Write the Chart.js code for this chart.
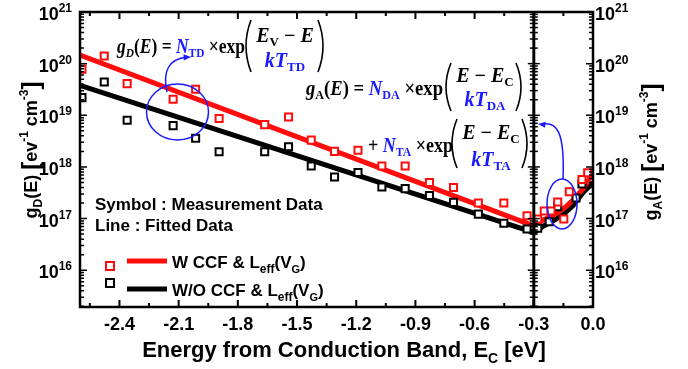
<!DOCTYPE html>
<html>
<head>
<meta charset="utf-8">
<script src="https://cdn.jsdelivr.net/npm/chart.js@4/dist/chart.umd.min.js"></script>
<style>
html, body { margin: 0; padding: 0; background: #fff; }
#wrap { width: 688px; height: 369px; position: relative; }
</style>
</head>
<body>
<div id="wrap"><canvas id="chart"></canvas></div>
<script>
// measured data, W CCF & Leff(VG)
const energyW = [-2.59, -2.477, -2.361, -2.128, -2.014, -1.895, -1.664, -1.543, -1.428, -1.31, -1.191, -1.07, -0.952,
                 -0.829, -0.707, -0.581, -0.452, -0.334, -0.28, -0.247, -0.213, -0.179, -0.148, -0.12, -0.056, -0.027];
const gW = [7.8e19, 1.41e20, 4.1e19, 2.04e19, 3.2e19, 8.7e18, 6.6e18, 9.3e18, 3.3e18, 2.0e18, 2.1e18, 1.04e18, 1.04e18,
            5.0e17, 4.0e17, 2.0e17, 2.0e17, 1.13e17, 9.8e16, 1.4e17, 1.4e17, 2.1e17, 9.8e16, 3.3e17, 5.7e17, 7.7e17];

// measured data, W/O CCF & Leff(VG)
const energyWO = [-2.59, -2.477, -2.361, -2.128, -2.014, -1.895, -1.664, -1.543, -1.428, -1.31, -1.191, -1.07, -0.952,
                  -0.829, -0.707, -0.581, -0.452, -0.334, -0.28, -0.222, -0.179, -0.086, -0.056];
const gWO = [2.2e19, 4.4e19, 8.0e18, 6.3e18, 3.6e18, 1.96e18, 1.96e18, 2.45e18, 1.04e18, 6.4e17, 7.8e17, 4.1e17, 3.8e17,
             2.8e17, 2.06e17, 1.22e17, 8.1e16, 6.3e16, 6.5e16, 8.7e16, 1.7e17, 2.5e17, 4.7e17];

// fitted curves
const fitEnergy = [-2.6, -0.3, -0.25, -0.2, -0.15, -0.1, -0.05, 0.0];
const fitW = [1.46e20, 7.2e16, 9.5e16, 1.17e17, 1.55e17, 2.3e17, 3.8e17, 7.6e17];
const fitWO = [3.8e19, 5.4e16, 7.2e16, 9.1e16, 1.2e17, 1.8e17, 3.2e17, 5.0e17];

// axes
const xTicks = [-2.4, -2.1, -1.8, -1.5, -1.2, -0.9, -0.6, -0.3, 0.0];
const xTickLabels = ['-2.4', '-2.1', '-1.8', '-1.5', '-1.2', '-0.9', '-0.6', '-0.3', '0.0'];
const yTickExps = [16, 17, 18, 19, 20, 21];
const xMin = -2.6, xMax = 0.0;
const yMin = 1.94e15, yMax = 1e21;
const dividerE = -0.3;

const RED = '#ff0d0d';
const BLUE = '#1a1aff';
const SANS = 'Arial, "Liberation Sans", sans-serif';
const SERIF = '"Times New Roman", "Liberation Serif", serif';

function pts(xs, ys) { return xs.map((x, i) => ({ x: x, y: ys[i] })); }

// draw a run of text pieces: [text, font, color, dy]
function seq(ctx, x, y, parts) {
    parts.forEach(p => {
        ctx.font = p[1];
        ctx.fillStyle = p[2] || '#000';
        ctx.fillText(p[0], x, y + (p[3] || 0));
        x += ctx.measureText(p[0]).width;
    });
    return x;
}
function seqWidth(ctx, parts) {
    let w = 0;
    parts.forEach(p => { ctx.font = p[1]; w += ctx.measureText(p[0]).width; });
    return w;
}
function seqCenter(ctx, cx, y, parts) {
    seq(ctx, cx - seqWidth(ctx, parts) / 2, y, parts);
}
// squeeze a run into a given width
function seqFit(ctx, x, y, parts, w) {
    const sx = Math.min(1, w / seqWidth(ctx, parts));
    ctx.save();
    ctx.translate(x, y);
    ctx.scale(sx, 1);
    seq(ctx, 0, 0, parts);
    ctx.restore();
}
function paren(ctx, x, y1, y2, dir) {
    // dir -1 = left "(", +1 = right ")"
    const m = (y1 + y2) / 2;
    ctx.beginPath();
    ctx.moveTo(x, y1);
    ctx.quadraticCurveTo(x + dir * 10, m, x, y2);
    ctx.lineWidth = 1.6;
    ctx.strokeStyle = '#000';
    ctx.stroke();
}
function logTicks(cb) {
    for (let e = 15; e <= 20; e++) {
        for (let k = 1; k <= 9; k++) {
            const v = k * Math.pow(10, e);
            if (v >= yMin && v <= yMax) cb(v, k === 1);
        }
    }
    cb(1e21, true);
}
function arrowHead(ctx, x, y, ang) {
    ctx.beginPath();
    ctx.moveTo(x, y);
    ctx.lineTo(x - 8 * Math.cos(ang - 0.4), y - 8 * Math.sin(ang - 0.4));
    ctx.lineTo(x - 8 * Math.cos(ang + 0.4), y - 8 * Math.sin(ang + 0.4));
    ctx.closePath();
    ctx.fill();
}

const decor = {
    id: 'decor',
    afterDraw(chart) {
        const ctx = chart.ctx;
        const { left, right, top, bottom } = chart.chartArea;
        const xs = chart.scales.x, ys = chart.scales.y;
        ctx.save();

        // frame
        ctx.strokeStyle = '#000';
        ctx.lineWidth = 2.5;
        ctx.strokeRect(left, top, right - left, bottom - top);

        // x ticks, inward on bottom and top
        ctx.lineWidth = 2;
        xTicks.forEach(v => {
            [[v, 7], [v - 0.15, 4]].forEach(t => {
                if (t[0] < xMin) return;
                const px = xs.getPixelForValue(t[0]);
                ctx.beginPath();
                ctx.moveTo(px, bottom); ctx.lineTo(px, bottom - t[1]);
                ctx.moveTo(px, top); ctx.lineTo(px, top + t[1]);
                ctx.stroke();
            });
        });
        // y ticks, inward on left and right
        ctx.lineWidth = 1.5;
        logTicks((v, major) => {
            const py = ys.getPixelForValue(v);
            const len = major ? 7 : 4;
            ctx.beginPath();
            ctx.moveTo(left, py); ctx.lineTo(left + len, py);
            ctx.moveTo(right, py); ctx.lineTo(right - len, py);
            ctx.stroke();
        });

        // divider at -0.3 with ticks both sides
        const dx = xs.getPixelForValue(dividerE);
        ctx.lineWidth = 3;
        ctx.beginPath(); ctx.moveTo(dx, top); ctx.lineTo(dx, bottom); ctx.stroke();
        ctx.lineWidth = 1.5;
        logTicks((v, major) => {
            const py = ys.getPixelForValue(v);
            const len = major ? 6 : 4;
            ctx.beginPath(); ctx.moveTo(dx - len, py); ctx.lineTo(dx + len, py); ctx.stroke();
        });

        // x tick labels
        ctx.fillStyle = '#000';
        ctx.font = 'bold 18px ' + SANS;
        ctx.textAlign = 'center';
        xTicks.forEach((v, i) => ctx.fillText(xTickLabels[i], xs.getPixelForValue(v), 330));
        ctx.textAlign = 'left';

        // y tick labels, left and right
        yTickExps.forEach(e => {
            const py = ys.getPixelForValue(Math.pow(10, e));
            const parts = [['10', 'bold 18px ' + SANS], [String(e), 'bold 12px ' + SANS, '#000', -8]];
            const w = seqWidth(ctx, parts);
            seq(ctx, left - 8 - w, py + 8, parts);
            seq(ctx, right + 2, py + 8, parts);
        });

        // x title
        const xt = [['Energy from Conduction Band, E', 'bold 22px ' + SANS], ['C', 'bold 14px ' + SANS, '#000', 6],
                    [' [eV]', 'bold 22px ' + SANS]];
        seqCenter(ctx, 344, 357, xt);

        // y titles (rotated)
        function yTitle(cx, cy, sub) {
            const parts = [['g', 'bold 18px ' + SANS], [sub, 'bold 12px ' + SANS, '#000', 5],
                           ['(E) ', 'bold 18px ' + SANS], ['[', 'bold 24px ' + SANS, '#000', 2],
                           ['ev', 'bold 18px ' + SANS], ['-1', 'bold 12px ' + SANS, '#000', -9],
                           [' cm', 'bold 18px ' + SANS], ['-3', 'bold 12px ' + SANS, '#000', -9],
                           [']', 'bold 24px ' + SANS, '#000', 2]];
            ctx.save();
            ctx.translate(cx, cy);
            ctx.rotate(-Math.PI / 2);
            seqCenter(ctx, 0, 0, parts);
            ctx.restore();
        }
        yTitle(37, 150, 'D');
        yTitle(657, 152, 'A');

        // notes
        ctx.font = 'bold 17px ' + SANS;
        ctx.fillStyle = '#000';
        ctx.fillText('Symbol : Measurement Data', 95, 210);
        ctx.fillText('Line : Fitted Data', 95, 231);

        // legend
        const leg = [[RED, 'W CCF & L', 266, 261, 268], ['#000', 'W/O CCF & L', 283, 289, 296]];
        leg.forEach(l => {
            ctx.strokeStyle = l[0];
            ctx.lineWidth = 2;
            ctx.fillStyle = '#fff';
            ctx.fillRect(106, l[2] - 4, 8, 8);
            ctx.strokeRect(106, l[2] - 4, 8, 8);
            ctx.lineWidth = 5;
            ctx.beginPath(); ctx.moveTo(127, l[3]); ctx.lineTo(167, l[3]); ctx.stroke();
            seq(ctx, 172, l[4], [[l[1], 'bold 17px ' + SANS], ['eff', 'bold 12px ' + SANS, '#000', 5],
                                 ['(V', 'bold 17px ' + SANS], ['G', 'bold 11px ' + SANS, '#000', 5],
                                 [')', 'bold 17px ' + SANS]]);
        });

        // equations
        const bi = 'bold italic 20px ' + SERIF, b = 'bold 20px ' + SERIF;
        const bs = 'bold 13px ' + SERIF, bis = 'bold italic 13px ' + SERIF;
        // g_D(E)
        seqFit(ctx, 117, 53, [['g', bi], ['D', bis, '#000', 4], ['(', b], ['E', bi], [') = ', b],
                              ['N', bi, BLUE], ['TD', bs, BLUE, 4], [' \u00d7exp', b]], 128);
        paren(ctx, 251, 20, 72, -1);
        paren(ctx, 318, 20, 72, 1);
        seqCenter(ctx, 285, 42, [['E', bi], ['V', bs, '#000', 4], [' \u2212 ', b], ['E', bi]]);
        seqCenter(ctx, 285, 67, [['kT', bi, BLUE], ['TD', bs, BLUE, 4]]);
        // g_A(E)
        seqFit(ctx, 306, 95, [['g', bi], ['A', bs, '#000', 4], ['(', b], ['E', bi], [') = ', b],
                              ['N', bi, BLUE], ['DA', bs, BLUE, 4], [' \u00d7exp', b]], 137);
        paren(ctx, 451, 63, 111, -1);
        paren(ctx, 516, 63, 111, 1);
        seqCenter(ctx, 485, 82, [['E', bi], [' \u2212 ', b], ['E', bi], ['C', bs, '#000', 4]]);
        seqCenter(ctx, 485, 106, [['kT', bi, BLUE], ['DA', bs, BLUE, 4]]);
        // + N_TA term
        seqFit(ctx, 368, 152, [['+ ', b], ['N', bi, BLUE], ['TA', bs, BLUE, 4], [' \u00d7exp', b]], 85);
        paren(ctx, 457, 119, 168, -1);
        paren(ctx, 522, 119, 168, 1);
        seqCenter(ctx, 491, 139, [['E', bi], [' \u2212 ', b], ['E', bi], ['C', bs, '#000', 4]]);
        seqCenter(ctx, 491, 166, [['kT', bi, BLUE], ['TA', bs, BLUE, 4]]);

        // blue annotations
        ctx.strokeStyle = BLUE;
        ctx.fillStyle = BLUE;
        ctx.lineWidth = 1.5;
        ctx.beginPath(); ctx.ellipse(177.5, 112, 31, 28, 0, 0, Math.PI * 2); ctx.stroke();
        ctx.beginPath(); ctx.moveTo(167, 92); ctx.quadraticCurveTo(160, 60, 187, 57); ctx.stroke();
        arrowHead(ctx, 191, 57, -0.05);
        ctx.beginPath(); ctx.ellipse(562, 204, 15, 25, 0, 0, Math.PI * 2); ctx.stroke();
        ctx.beginPath(); ctx.moveTo(563, 179); ctx.bezierCurveTo(565, 130, 556, 122, 543, 124); ctx.stroke();
        arrowHead(ctx, 538, 124, Math.PI + 0.1);

        ctx.restore();
    }
};

new Chart(document.getElementById('chart'), {
    type: 'scatter',
    data: {
        datasets: [
            { label: 'W CCF fit', data: pts(fitEnergy, fitW), showLine: true, borderColor: RED,
              borderWidth: 5, pointRadius: 0, order: 2 },
            { label: 'W/O CCF fit', data: pts(fitEnergy, fitWO), showLine: true, borderColor: '#000',
              borderWidth: 5, pointRadius: 0, order: 2 },
            { label: 'W CCF', data: pts(energyW, gW), pointStyle: 'rect', pointRadius: 5,
              borderWidth: 2, borderColor: RED, backgroundColor: '#fff', order: 1 },
            { label: 'W/O CCF', data: pts(energyWO, gWO), pointStyle: 'rect', pointRadius: 5,
              borderWidth: 2, borderColor: '#000', backgroundColor: '#fff', order: 1 }
        ]
    },
    options: {
        responsive: true,
        maintainAspectRatio: false,
        animation: false,
        layout: { padding: { left: 80, right: 95, top: 12, bottom: 62 } },
        scales: {
            x: { type: 'linear', min: xMin, max: xMax, display: false },
            y: { type: 'logarithmic', min: yMin, max: yMax, display: false }
        },
        plugins: { legend: { display: false }, tooltip: { enabled: false } }
    },
    plugins: [decor]
});
</script>
</body>
</html>
